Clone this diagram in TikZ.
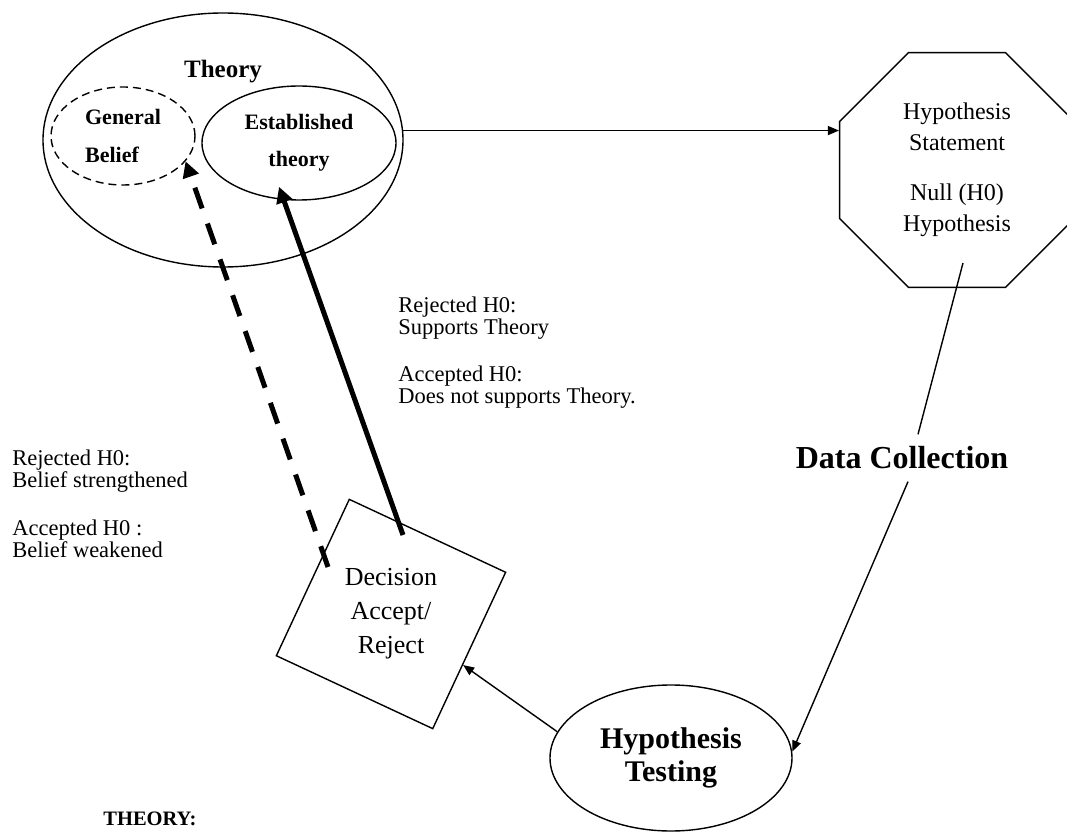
\documentclass[tikz,border=0pt]{standalone}
\usepackage{fontspec}
\setmainfont{Liberation Serif}
\usepackage{tikz}
\usetikzlibrary{shapes.geometric, arrows.meta, calc}

\begin{document}
\begin{tikzpicture}[x=0.5pt, y=-0.5pt,
  bubble/.style={draw, ellipse, inner sep=0pt, line width=0.7pt},
  poly/.style={draw, regular polygon, inner sep=0pt, line width=0.7pt, align=center},
  thinarrow/.style={-{Triangle[length=5.5pt, width=4.5pt]}, line width=0.7pt},
  thickarrow/.style={-{Triangle[length=8pt, width=8pt]}, line width=2.5pt},
  note/.style={anchor=north west, inner sep=0pt, align=left, font=\fontsize{11.25}{11.25}\selectfont}]
\useasboundingbox (0,0) rectangle (1067,834);

% theory with its two parts
\node[bubble, minimum width=180pt, minimum height=127pt] (theory) at (223,140) {};
\node[font=\bfseries\fontsize{12.5}{15}\selectfont] (theorylbl) at (223,72) {Theory};
\node[bubble, dash pattern=on 4pt off 2.5pt, minimum width=72pt, minimum height=49pt, align=left,
  font=\bfseries\fontsize{11}{19}\selectfont] (belief) at (123,136) {General\\Belief};
\node[bubble, minimum width=97pt, minimum height=57pt, align=center,
  font=\bfseries\fontsize{11}{18.5}\selectfont] (est) at (299,143) {Established\\theory};

% statement, data, testing and decision
\node[poly, regular polygon sides=8, minimum size=127pt, font=\fontsize{12}{15.5}\selectfont] (stmt) at (957,170)
  {Hypothesis\\Statement\\[9.5pt]Null (H0)\\Hypothesis};
\node[inner sep=6pt, font=\bfseries\fontsize{16}{19}\selectfont] (data) at (902,458) {Data Collection};
\node[bubble, minimum width=121pt, minimum height=73pt, align=center,
  font=\bfseries\fontsize{15}{16.5}\selectfont] (test) at (671,758) {Hypothesis\\Testing};
\node[poly, regular polygon sides=4, shape border rotate=-25, minimum size=122pt,
  font=\fontsize{13}{17}\selectfont] (dec) at (391,614) {Decision\\Accept/\\Reject};

% free ends of the connectors
\coordinate (stmtout) at ([shift={(6,93)}]stmt.center);
\coordinate (solidout) at ([shift={(12,-79)}]dec.center);
\coordinate (dashout) at ([shift={(-63,-47)}]dec.center);

\draw[thinarrow] (theory.3) -- (theory.3 -| stmt.west);
\draw[line width=0.7pt] (stmtout) -- ([xshift=8pt]data.north);
\draw[thinarrow] ([xshift=3pt]data.south) -- (test.3);
\draw[thinarrow] (test.167) -- (dec);
\draw[thickarrow, shorten >=-7pt] (solidout) -- (est.255);
\draw[thickarrow, dash pattern=on 11pt off 8pt] (dashout) -- (belief.-22);

% the notes
\node[note] (theorynote) at (398,296) {Rejected H0:\\Supports Theory\\[12pt]Accepted H0:\\Does not supports Theory.};
\node[note] (beliefnote) at (12,449) {Rejected H0:\\Belief strengthened\\[12.5pt]Accepted H0 :\\Belief weakened};
\node[anchor=base west, inner sep=0pt, font=\bfseries\fontsize{10.25}{12}\selectfont] (theoryhead) at (103,825) {THEORY:};

\end{tikzpicture}
\end{document}
